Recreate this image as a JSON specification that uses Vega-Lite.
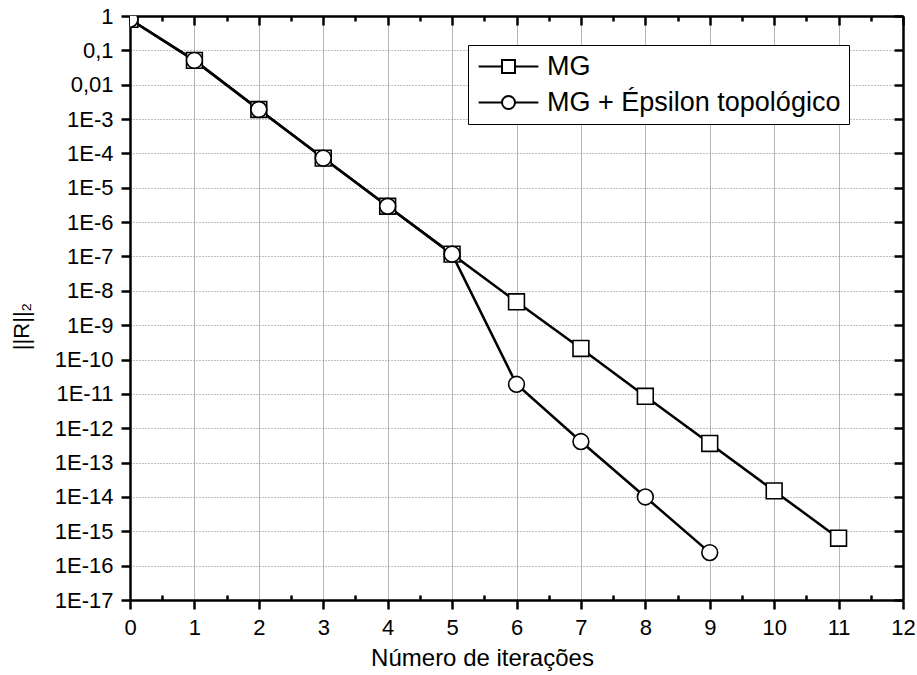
{
  "$schema": "https://vega.github.io/schema/vega-lite/v6.json",
  "width": 773,
  "height": 584,
  "autosize": {"type": "none"},
  "padding": {"left": 130, "top": 16, "right": 14, "bottom": 75},
  "background": "white",
  "config": {
    "view": {"stroke": null},
    "font": "Liberation Sans",
    "axis": {
      "labelFont": "Liberation Sans",
      "titleFont": "Liberation Sans",
      "labelColor": "black",
      "titleColor": "black",
      "domainColor": "black",
      "domainWidth": 2.5,
      "tickColor": "black",
      "tickWidth": 2.5,
      "labelFontSize": 22,
      "titleFontSize": 24,
      "titleFontWeight": "normal"
    }
  },
  "data": {
    "values": [
      {"x": 0, "value": 0.8, "series": "MG"},
      {"x": 1, "value": 0.051, "series": "MG"},
      {"x": 2, "value": 0.0019, "series": "MG"},
      {"x": 3, "value": 7.3e-5, "series": "MG"},
      {"x": 4, "value": 2.9e-6, "series": "MG"},
      {"x": 5, "value": 1.17e-7, "series": "MG"},
      {"x": 6, "value": 4.8e-9, "series": "MG"},
      {"x": 7, "value": 2.1e-10, "series": "MG"},
      {"x": 8, "value": 8.5e-12, "series": "MG"},
      {"x": 9, "value": 3.6e-13, "series": "MG"},
      {"x": 10, "value": 1.5e-14, "series": "MG"},
      {"x": 11, "value": 6.3e-16, "series": "MG"},
      {"x": 0, "value": 0.8, "series": "MG + Épsilon topológico"},
      {"x": 1, "value": 0.051, "series": "MG + Épsilon topológico"},
      {"x": 2, "value": 0.0019, "series": "MG + Épsilon topológico"},
      {"x": 3, "value": 7.3e-5, "series": "MG + Épsilon topológico"},
      {"x": 4, "value": 2.9e-6, "series": "MG + Épsilon topológico"},
      {"x": 5, "value": 1.17e-7, "series": "MG + Épsilon topológico"},
      {"x": 6, "value": 1.9e-11, "series": "MG + Épsilon topológico"},
      {"x": 7, "value": 4.1e-13, "series": "MG + Épsilon topológico"},
      {"x": 8, "value": 1.0e-14, "series": "MG + Épsilon topológico"},
      {"x": 9, "value": 2.4e-16, "series": "MG + Épsilon topológico"}
    ]
  },
  "resolve": {
    "scale": {"x": "shared", "y": "shared", "shape": "independent"},
    "axis": {"x": "independent", "y": "independent"},
    "legend": {"shape": "independent"}
  },
  "layer": [
    {
      "mark": {"type": "line", "color": "black", "strokeWidth": 2.5, "clip": true},
      "encoding": {
        "x": {
          "field": "x", "type": "quantitative",
          "scale": {"domain": [0, 12], "nice": false, "zero": false},
          "axis": {
            "orient": "bottom",
            "title": "Número de iterações",
            "titleX": 352,
            "titleAlign": "center",
            "values": [0,0.5,1,1.5,2,2.5,3,3.5,4,4.5,5,5.5,6,6.5,7,7.5,8,8.5,9,9.5,10,10.5,11,11.5,12],
            "labelExpr": "datum.value % 1 == 0 ? format(datum.value, 'd') : ''",
            "tickSize": {"condition": {"test": "datum.value % 1 != 0", "value": -5}, "value": 9},
            "labelPadding": 8,
            "titlePadding": 8,
            "grid": true,
            "gridColor": "#6e6e6e",
            "gridDash": [1, 1],
            "gridWidth": 1,
            "gridOpacity": {"condition": {"test": "datum.value % 1 != 0", "value": 0}, "value": 1},
            "labelFlush": false,
            "labelOverlap": false
          }
        },
        "y": {
          "field": "value", "type": "quantitative",
          "scale": {"type": "log", "domain": [1e-17, 1], "nice": false},
          "axis": {
            "orient": "left",
            "title": "||R||₂",
            "titleX": -102,
            "titleY": 310,
            "titleAngle": -90,
            "titleAlign": "center",
            "titleBaseline": "alphabetic",
            "titleFontSize": 22,
            "values": [1, 0.1, 0.01, 0.001, 1e-4, 1e-5, 1e-6, 1e-7, 1e-8, 1e-9, 1e-10, 1e-11, 1e-12, 1e-13, 1e-14, 1e-15, 1e-16, 1e-17],
            "labelExpr": "datum.value > 0.5 ? '1' : datum.value > 0.05 ? '0,1' : datum.value > 0.005 ? '0,01' : '1E-' + format(-log(datum.value) / LN10, '.0f')",
            "tickSize": 9,
            "labelPadding": 8,
            "grid": true,
            "gridColor": "#808080",
            "gridDash": [1, 2],
            "gridWidth": 1,
            "labelFlush": false,
            "labelOverlap": false
          }
        },
        "detail": {"field": "series"}
      }
    },
    {
      "mark": {"type": "point", "filled": true, "fill": "white", "stroke": "black", "strokeWidth": 1.6, "opacity": 1, "size": 250, "clip": true},
      "encoding": {
        "x": {
          "field": "x", "type": "quantitative",
          "axis": {
            "orient": "top",
            "title": null,
            "labels": false,
            "grid": false,
            "values": [0,0.5,1,1.5,2,2.5,3,3.5,4,4.5,5,5.5,6,6.5,7,7.5,8,8.5,9,9.5,10,10.5,11,11.5,12],
            "tickSize": {"condition": {"test": "datum.value % 1 != 0", "value": -5}, "value": -9}
          }
        },
        "y": {
          "field": "value", "type": "quantitative",
          "axis": {
            "orient": "right",
            "title": null,
            "labels": false,
            "grid": false,
            "values": [1, 0.1, 0.01, 0.001, 1e-4, 1e-5, 1e-6, 1e-7, 1e-8, 1e-9, 1e-10, 1e-11, 1e-12, 1e-13, 1e-14, 1e-15, 1e-16, 1e-17],
            "tickSize": -9
          }
        },
        "shape": {
          "field": "series", "type": "nominal",
          "scale": {"domain": ["MG", "MG + Épsilon topológico"], "range": ["square", "circle"]},
          "legend": null
        }
      }
    },
    {
      "transform": [{"filter": "datum.x < 0"}],
      "mark": {"type": "point", "filled": true, "fill": "white", "stroke": "black", "strokeWidth": 2, "opacity": 1, "clip": true},
      "encoding": {
        "x": {"field": "x", "type": "quantitative", "axis": null},
        "y": {"field": "value", "type": "quantitative", "axis": null},
        "shape": {
          "field": "series", "type": "nominal",
          "scale": {
            "domain": ["MG", "MG + Épsilon topológico"],
            "range": ["M-4.6,0H-1M1,0H4.6M-1,-1H1V1H-1Z", "M-4.6,0H-1M1,0H4.6M-1,0A1,1 0 1,0 1,0A1,1 0 1,0 -1,0Z"]
          },
          "legend": {
            "title": null,
            "orient": "none",
            "legendX": 338,
            "legendY": 29,
            "labelFont": "Liberation Sans",
            "labelFontSize": 27,
            "labelColor": "black",
            "labelLimit": 400,
            "symbolSize": 169,
            "symbolOffset": 19,
            "labelOffset": 25,
            "symbolStrokeWidth": 2,
            "rowPadding": 8,
            "padding": 8,
            "strokeColor": "black",
            "fillColor": "white"
          }
        }
      }
    }
  ]
}
